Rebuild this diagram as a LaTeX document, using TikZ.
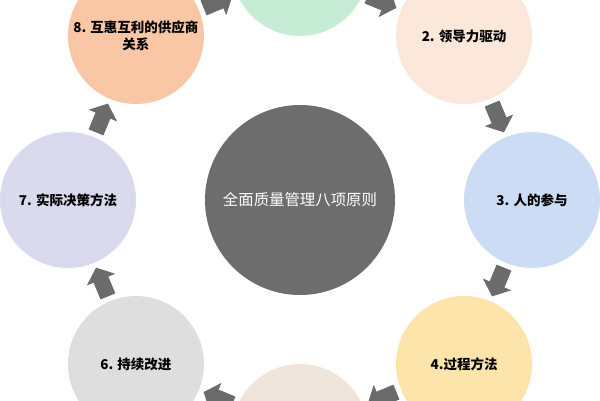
\documentclass[tikz,border=0pt]{standalone}
\usepackage{fontspec}
\usetikzlibrary{arrows.meta}
\newfontfamily\cjk{Noto Sans CJK SC}
\definecolor{mygreen}{HTML}{C6ECD5}
\definecolor{mypeach}{HTML}{FCE8DA}
\definecolor{myblue}{HTML}{CCDCF4}
\definecolor{myyellow}{HTML}{FDE4AA}
\definecolor{mybeige}{HTML}{EFE5DD}
\definecolor{mysilver}{HTML}{DEDEDE}
\definecolor{mylilac}{HTML}{DADAEE}
\definecolor{myorange}{HTML}{F9C6A6}
\definecolor{mydark}{HTML}{6D6D6D}
\definecolor{myarrow}{HTML}{6B6B6B}
\tikzset{
	ball/.style={circle, minimum size=136pt, inner sep=0pt, align=center, font=\cjk\bfseries\fontsize{13.5}{17}\selectfont},
	turn/.style={draw=myarrow, line width=16pt, -{Triangle[length=13pt,width=30pt]}, shorten <=5pt, shorten >=5pt},
}

\begin{document}
\begin{tikzpicture}[x=1pt, y=1pt]
	\useasboundingbox (-300,-200) rectangle (300,200);

	\node[ball, fill=mygreen] (p1) at (90:232) {};
	\node[ball, fill=mypeach] (p2) at (45:232) {2. 领导力驱动};
	\node[ball, fill=myblue] (p3) at (0:232) {3. 人的参与};
	\node[ball, fill=myyellow] (p4) at (-45:232) {4.过程方法};
	\node[ball, fill=mybeige] (p5) at (-90:232) {};
	\node[ball, fill=mysilver] (p6) at (-135:232) {6. 持续改进};
	\node[ball, fill=mylilac] (p7) at (180:232) {7. 实际决策方法};
	\node[ball, fill=myorange] (p8) at (135:232) {8. 互惠互利的供应商\\关系};

	\node[circle, fill=mydark, minimum size=190pt, text=white, font=\cjk\fontsize{15.4}{18}\selectfont] (tqm) at (0,0) {全面质量管理八项原则};

	\draw[turn] (p1) -- (p2);
	\draw[turn] (p2) -- (p3);
	\draw[turn] (p3) -- (p4);
	\draw[turn] (p4) -- (p5);
	\draw[turn] (p5) -- (p6);
	\draw[turn] (p6) -- (p7);
	\draw[turn] (p7) -- (p8);
	\draw[turn] (p8) -- (p1);
\end{tikzpicture}
\end{document}
